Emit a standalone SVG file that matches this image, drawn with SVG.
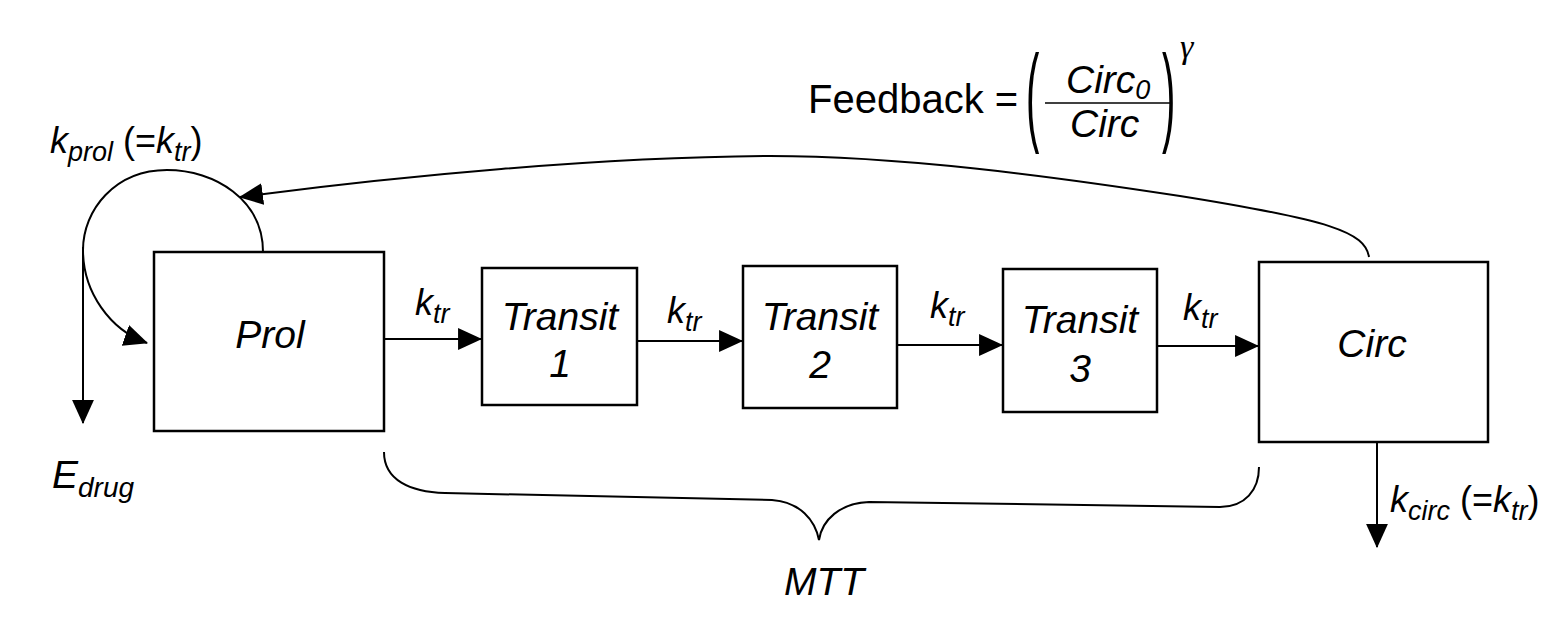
<svg xmlns="http://www.w3.org/2000/svg" width="1567" height="631" viewBox="0 0 1567 631">
<style>
.box{fill:#fff;stroke:#000;stroke-width:2.5}
.ln{fill:none;stroke:#000;stroke-width:2}
.t{font-family:"Liberation Sans",Arial,sans-serif;font-style:italic;fill:#000}
.big{font-size:39px}
.k{font-size:36px}
.sub{font-size:27px}
.r{font-family:"Liberation Sans",Arial,sans-serif;fill:#000;font-size:40px}
</style>
<defs>
<marker id="ah" markerUnits="userSpaceOnUse" markerWidth="24" markerHeight="24" viewBox="0 0 22 22" refX="21" refY="11" orient="auto">
<path d="M0,1 L22,11 L0,21 Z" fill="#000"/>
</marker>
</defs>
<g id="connectors">
<line class="ln" x1="384" y1="339" x2="481" y2="339" marker-end="url(#ah)"/>
<line class="ln" x1="637" y1="341" x2="742" y2="341" marker-end="url(#ah)"/>
<line class="ln" x1="897" y1="345" x2="1002" y2="345" marker-end="url(#ah)"/>
<line class="ln" x1="1157" y1="346" x2="1258" y2="346" marker-end="url(#ah)"/>
<path class="ln" d="M1369,257 C1365,232 1330,220 1180,196 C1050,176 900,156 770,156 C600,157 400,176 240,197" marker-end="url(#ah)"/>
<path class="ln" d="M263,252 C263,200 215,170 167,170 C115,170 83,210 83,250 C83,292 110,330 147,343" marker-end="url(#ah)"/>
<line class="ln" x1="83" y1="247" x2="83" y2="423" marker-end="url(#ah)"/>
<line class="ln" x1="1377" y1="442" x2="1377" y2="547" marker-end="url(#ah)"/>
<path class="ln" d="M384,452 C384,480 410,492 445,493 L772,500 C800,502 815,520 819,540 C822,520 840,503 869,502 L1220,507 C1245,507 1259,490 1259,467"/>
</g>
<g id="prol">
<rect class="box" x="154" y="252" width="230" height="179"/>
<text class="t big" x="270" y="348" text-anchor="middle">Prol</text>
</g>
<g id="transit1">
<rect class="box" x="482" y="268" width="155" height="137"/>
<text class="t big" x="560" y="330" text-anchor="middle">Transit</text>
<text class="t big" x="560" y="377" text-anchor="middle">1</text>
</g>
<g id="transit2">
<rect class="box" x="743" y="266" width="154" height="142"/>
<text class="t big" x="820" y="330" text-anchor="middle">Transit</text>
<text class="t big" x="820" y="378" text-anchor="middle">2</text>
</g>
<g id="transit3">
<rect class="box" x="1003" y="269" width="154" height="143"/>
<text class="t big" x="1080" y="333" text-anchor="middle">Transit</text>
<text class="t big" x="1080" y="382" text-anchor="middle">3</text>
</g>
<g id="circ">
<rect class="box" x="1259" y="262" width="229" height="180"/>
<text class="t big" x="1372" y="357" text-anchor="middle">Circ</text>
</g>
<g id="labels">
<text class="t k" x="415" y="315">k<tspan class="sub" dy="8">tr</tspan></text>
<text class="t k" x="667" y="323">k<tspan class="sub" dy="8">tr</tspan></text>
<text class="t k" x="930" y="318">k<tspan class="sub" dy="8">tr</tspan></text>
<text class="t k" x="1183" y="320">k<tspan class="sub" dy="8">tr</tspan></text>
<text class="t k" x="50" y="153">k<tspan class="sub" dy="8">prol</tspan><tspan dy="-8" font-style="normal"> (=</tspan>k<tspan class="sub" dy="8">tr</tspan><tspan dy="-8" font-style="normal">)</tspan></text>
<text class="t k" x="1390" y="512">k<tspan class="sub" dy="8">circ</tspan><tspan dy="-8" font-style="normal"> (=</tspan>k<tspan class="sub" dy="8">tr</tspan><tspan dy="-8" font-style="normal">)</tspan></text>
<text class="t" x="52" y="488" font-size="39">E<tspan font-size="28" dy="9">drug</tspan></text>
<text class="t big" x="824" y="595" text-anchor="middle">MTT</text>
</g>
<g id="feedback">
<text class="r" x="808" y="113">Feedback =</text>
<text class="r" font-size="46" transform="translate(1026,130.7) scale(1,2.75)">(</text>
<text class="r" font-size="46" transform="translate(1162,130.7) scale(1,2.75)">)</text>
<line x1="1045" y1="103" x2="1170" y2="103" stroke="#000" stroke-width="1.5"/>
<text class="t" font-size="39" x="1066" y="93">Circ<tspan font-size="27" dy="6">0</tspan></text>
<text class="t" font-size="39" x="1070" y="137">Circ</text>
<text font-family="'Liberation Serif',serif" font-style="italic" font-size="34" x="1180" y="58">γ</text>
</g>
</svg>
